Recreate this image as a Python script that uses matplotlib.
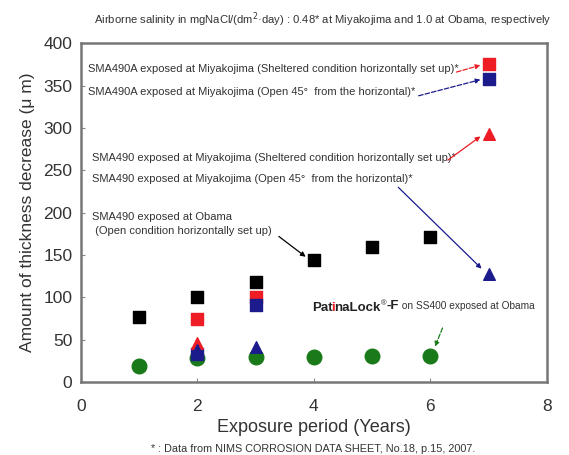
import matplotlib
matplotlib.use('Agg')
import matplotlib.pyplot as plt

plt.rcParams['font.family'] = ['Liberation Sans', 'DejaVu Sans']

# exposure years and thickness decrease (um)
obama_x = [1, 2, 3, 4, 5, 6]
obama_y = [77, 101, 118, 144, 160, 171]

sma490a_shelt_x = [2, 3, 7]
sma490a_shelt_y = [75, 100, 375]

sma490a_open_x = [2, 3, 7]
sma490a_open_y = [33, 91, 358]

sma490_shelt_x = [2, 7]
sma490_shelt_y = [46, 293]

sma490_open_x = [2, 3, 7]
sma490_open_y = [38, 41, 128]

patina_x = [1, 2, 3, 4, 5, 6]
patina_y = [19, 28, 30, 30, 31, 31]

xticks = [0, 2, 4, 6, 8]
yticks = [0, 50, 100, 150, 200, 250, 300, 350, 400]

RED = '#ee1c25'
NAVY = '#1b1b8c'
GREEN = '#1a7a1a'
TXT = '#333333'

fig = plt.figure(figsize=(5.69, 4.55), dpi=100)
ax = fig.add_axes([0.142, 0.160, 0.819, 0.745])

ax.scatter(patina_x, patina_y, marker='o', s=110, color=GREEN, zorder=3)
ax.scatter(obama_x, obama_y, marker='s', s=70, color='black', zorder=3)
ax.scatter(sma490a_shelt_x, sma490a_shelt_y, marker='s', s=70, color=RED, zorder=3)
ax.scatter(sma490a_open_x, sma490a_open_y, marker='s', s=70, color=NAVY, zorder=3)
ax.scatter(sma490_shelt_x, sma490_shelt_y, marker='^', s=70, color=RED, zorder=4)
ax.scatter(sma490_open_x, sma490_open_y, marker='^', s=70, color=NAVY, zorder=4)

ax.set_xlim(0, 8)
ax.set_ylim(0, 400)
ax.set_xticks(xticks)
ax.set_yticks(yticks)
ax.tick_params(direction='in', length=3, color='#888888', labelsize=12.5,
               labelcolor=TXT)
ax.tick_params(axis='x', pad=12)
ax.tick_params(axis='y', pad=6)
for s in ax.spines.values():
    s.set_color('#777777')
    s.set_linewidth(1.8)

ax.set_xlabel('Exposure period (Years)', fontsize=13, color=TXT, labelpad=4)
ax.set_ylabel('Amount of thickness decrease (\u03bc m)', fontsize=12.5, color=TXT, labelpad=6)

# annotation labels
fs = 8
ax.text(0.12, 369, 'SMA490A exposed at Miyakojima (Sheltered condition horizontally set up)*',
        fontsize=fs, color=TXT, va='center')
ax.text(0.12, 342, 'SMA490A exposed at Miyakojima (Open 45\u00b0  from the horizontal)*',
        fontsize=fs, color=TXT, va='center')
ax.text(0.2, 264, 'SMA490 exposed at Miyakojima (Sheltered condition horizontally set up)*',
        fontsize=fs, color=TXT, va='center')
ax.text(0.2, 240, 'SMA490 exposed at Miyakojima (Open 45\u00b0  from the horizontal)*',
        fontsize=fs, color=TXT, va='center')
ax.text(0.2, 187, 'SMA490 exposed at Obama\n (Open condition horizontally set up)',
        fontsize=fs, color=TXT, va='center', linespacing=1.5)

# arrows from labels to points
def arrow(start, end, color, ls='-'):
    ax.annotate('', xy=end, xytext=start,
                arrowprops=dict(arrowstyle='-|>', color=color, lw=0.9, ls=ls,
                                mutation_scale=7, shrinkA=0, shrinkB=0))

arrow((6.45, 366), (6.86, 374), RED, '--')
arrow((5.8, 338), (6.86, 357), NAVY, '--')
arrow((6.3, 262), (6.86, 290), RED)
arrow((5.45, 230), (6.88, 134), NAVY)
arrow((3.4, 172), (3.86, 148), 'black')
arrow((6.21, 64), (6.08, 42), GREEN, '--')

# PatinaLock label, bold with red "i"
tx, ty = 3.97, 87
pfs = 9.5
t1 = ax.text(tx, ty, 'Pat', fontsize=pfs, fontweight='bold', color='#222222', va='center')
t2 = ax.annotate('i', xycoords=t1, xy=(1, 0.5), xytext=(-0.8, 0), textcoords='offset points',
                 va='center', fontsize=pfs, fontweight='bold', color=RED)
t3 = ax.annotate('naLock', xycoords=t2, xy=(1, 0.5), xytext=(-0.8, 0), textcoords='offset points',
                 va='center', fontsize=pfs, fontweight='bold', color='#222222')
t4 = ax.annotate('\u00ae', xycoords=t3, xy=(1, 0.9), va='center', fontsize=5.5,
                 color='#222222')
t5 = ax.annotate('-F', xycoords=t4, xy=(1, 0.1), va='center', fontsize=pfs,
                 fontweight='bold', color='#222222')
ax.annotate(' on SS400 exposed at Obama', xycoords=t5, xy=(1, 0.5), va='center',
            fontsize=7.3, color=TXT)

fig.text(0.165, 0.957, 'Airborne salinity in mgNaCl/(dm$^{2}$\u00b7day) : 0.48* at Miyakojima and 1.0 at Obama, respectively',
         fontsize=8.1, color=TXT, va='center')
fig.text(0.55, 0.014, '* : Data from NIMS CORROSION DATA SHEET, No.18, p.15, 2007.',
         fontsize=7.8, color=TXT, ha='center', va='center')

fig.savefig('out.png', dpi=100)
